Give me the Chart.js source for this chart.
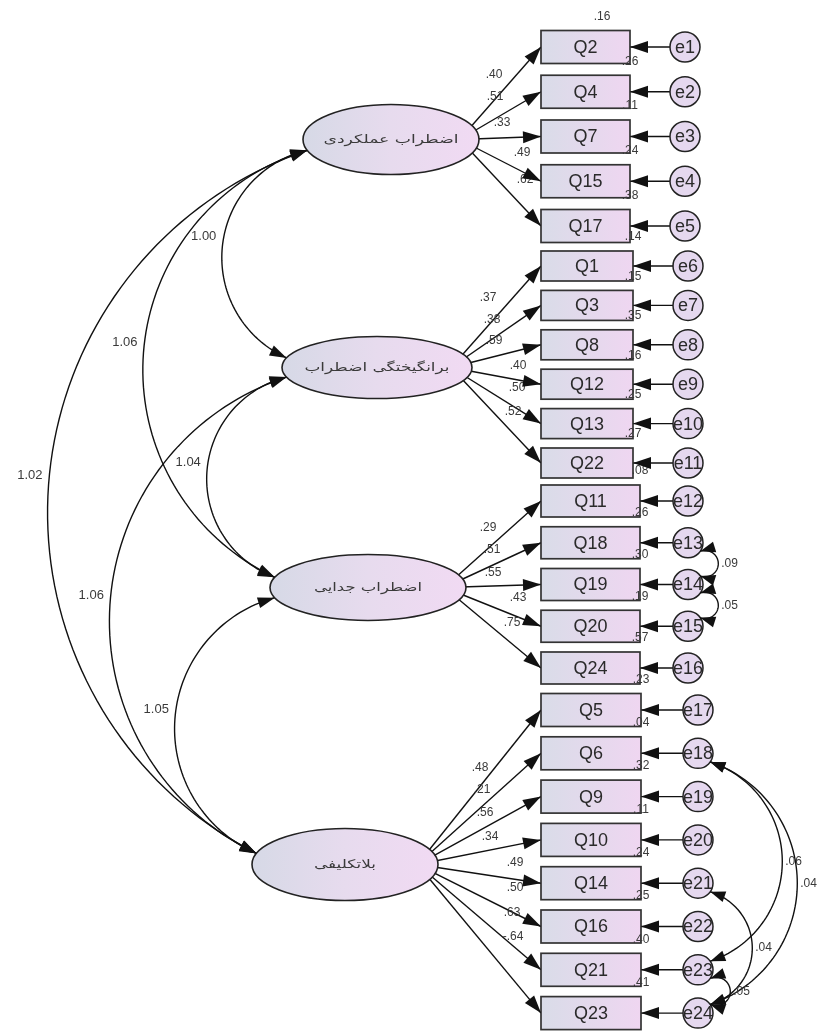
<!DOCTYPE html>
<html>
<head>
<meta charset="utf-8">
<title>CFA path diagram</title>
<script src="https://cdn.jsdelivr.net/npm/chart.js@4.4.1/dist/chart.umd.min.js"></script>
<style>
  html, body { margin: 0; padding: 0; background: #fff; }
  #wrap { width: 823px; height: 1033px; position: relative; }
</style>
</head>
<body>
<div id="wrap"><canvas id="sem"></canvas></div>
<script>
// ---- model values ----
const factorNames = ['اضطراب عملکردی', 'برانگیختگی اضطراب', 'اضطراب جدایی', 'بلاتکلیفی'];

const itemNames = [
	['Q2', 'Q4', 'Q7', 'Q15', 'Q17'],
	['Q1', 'Q3', 'Q8', 'Q12', 'Q13', 'Q22'],
	['Q11', 'Q18', 'Q19', 'Q20', 'Q24'],
	['Q5', 'Q6', 'Q9', 'Q10', 'Q14', 'Q16', 'Q21', 'Q23']
];

const loadings = [
	['.40', '.51', '.33', '.49', '.62'],
	['.37', '.38', '.59', '.40', '.50', '.52'],
	['.29', '.51', '.55', '.43', '.75'],
	['.48', '.21', '.56', '.34', '.49', '.50', '.63', '-.64']
];

const rSquared = [
	['.16', '.26', '.11', '.24', '.38'],
	['.14', '.15', '.35', '.16', '.25', '.27'],
	['.08', '.26', '.30', '.19', '.57'],
	['.23', '.04', '.32', '.11', '.24', '.25', '.40', '.41']
];

const factorCovPairs = [[0, 1], [0, 2], [0, 3], [1, 2], [1, 3], [2, 3]];
const factorCovs = ['1.00', '1.06', '1.02', '1.04', '1.06', '1.05'];

// error terms are numbered e1..e24
const errorCovPairs = [[13, 14], [14, 15], [18, 23], [18, 24], [21, 24], [23, 24]];
const errorCovs = ['.09', '.05', '.06', '.04', '.04', '.05'];

// ---- layout (axis units, the axes run 0..823 and 0..1033) ----
const groupTop = [47, 266, 501, 710];
const groupStep = [44.75, 39.4, 41.75, 43.3];
const boxX = 541;
const boxW = [89, 92, 99, 100];
const boxH = [33, 30, 32, 33];
const errX = [685, 688, 688, 698];
const errR = 15;
const factorX = [391, 377, 368, 345];
const factorRx = [88, 95, 98, 93];
const factorRy = [35, 31, 33, 36];
const factorTextW = [135, 145, 108, 62];
const factorBulge = [75, 148, 234, 74, 162, 91];
const errorBulge = [18, 18, 72, 87, 42, 20];
const r2Shift = { Q2: -28 };
const loadLabelXY = [
	[[494, 75], [495, 97], [502, 123], [522, 153], [525, 180]],
	[[488, 298], [492, 320], [494, 341], [518, 366], [517, 388], [513, 412]],
	[[488, 528], [492, 550], [493, 573], [518, 598], [512, 623]],
	[[480, 768], [482, 790], [485, 813], [490, 837], [515, 863], [515, 888], [512, 913], [513, 937]]
];

// flatten items into rows
const rows = [];
itemNames.forEach((names, g) => {
	names.forEach((name, i) => {
		rows.push({ g: g, i: i, name: name, y: groupTop[g] + i * groupStep[g] });
	});
});
const factorY = groupTop.map((t, g) => t + (itemNames[g].length - 1) * groupStep[g] / 2 + 3);
const fanX = factorX.map((x, g) => x + 0.78 * factorRx[g]);

function factorAnchor(g, up) {
	const a = 18 * Math.PI / 180;
	return { x: factorX[g] - factorRx[g] * Math.cos(a), y: factorY[g] + (up ? -1 : 1) * factorRy[g] * Math.sin(a) };
}

function errAnchor(e, up) {
	const row = rows[e - 1];
	const a = 35 * Math.PI / 180;
	return { x: errX[row.g] + errR * Math.cos(a), y: row.y + (up ? -1 : 1) * errR * Math.sin(a) };
}

// circular arc through p1, p2 with sagitta sag (positive bulges to the left of a downward chord)
function arcPoints(p1, p2, sag) {
	const dx = p2.x - p1.x, dy = p2.y - p1.y;
	const L = Math.hypot(dx, dy);
	const ux = dx / L, uy = dy / L;
	const nx = -uy, ny = ux;
	const mx = (p1.x + p2.x) / 2, my = (p1.y + p2.y) / 2;
	const bx = mx + sag * nx, by = my + sag * ny;
	const R = ((L / 2) * (L / 2) + sag * sag) / (2 * Math.abs(sag));
	const k = sag - Math.sign(sag) * R;
	const cx = mx + k * nx, cy = my + k * ny;
	const a1 = Math.atan2(p1.y - cy, p1.x - cx);
	const a2 = Math.atan2(p2.y - cy, p2.x - cx);
	const ab = Math.atan2(by - cy, bx - cx);
	let d = a2 - a1;
	while (d > Math.PI) d -= 2 * Math.PI;
	while (d < -Math.PI) d += 2 * Math.PI;
	// make sure the sweep passes through the bulge point
	const half = a1 + d / 2;
	if (Math.cos(half - ab) < 0) d = d - Math.sign(d) * 2 * Math.PI;
	const pts = [];
	const n = 80;
	for (let i = 0; i <= n; i++) {
		const a = a1 + d * i / n;
		pts.push({ x: cx + R * Math.cos(a), y: cy + R * Math.sin(a) });
	}
	return { pts: pts, mid: { x: bx, y: by } };
}

function drawHead(ctx, tip, from, len, hw) {
	const dx = tip.x - from.x, dy = tip.y - from.y;
	const l = Math.hypot(dx, dy) || 1;
	const ux = dx / l, uy = dy / l;
	const bx = tip.x - ux * len, by = tip.y - uy * len;
	ctx.beginPath();
	ctx.moveTo(tip.x, tip.y);
	ctx.lineTo(bx - uy * hw, by + ux * hw);
	ctx.lineTo(bx + uy * hw, by - ux * hw);
	ctx.closePath();
	ctx.fill();
}

const sans = '"Liberation Sans", Arial, sans-serif';

const semPlugin = {
	id: 'semDiagram',
	afterDatasetsDraw(chart) {
		const ctx = chart.ctx;
		const X = v => chart.scales.x.getPixelForValue(v);
		const Y = v => chart.scales.y.getPixelForValue(v);
		const unit = X(1) - X(0);
		const P = p => ({ x: X(p.x), y: Y(p.y) });
		const heads = [];
		const texts = [];

		ctx.save();
		ctx.strokeStyle = '#111';
		ctx.fillStyle = '#111';
		ctx.lineWidth = 1.4;

		// factor covariances
		factorCovPairs.forEach((pair, k) => {
			const arc = arcPoints(P(factorAnchor(pair[0], false)), P(factorAnchor(pair[1], true)), factorBulge[k] * unit);
			const pts = arc.pts;
			ctx.beginPath();
			pts.forEach((p, i) => i ? ctx.lineTo(p.x, p.y) : ctx.moveTo(p.x, p.y));
			ctx.stroke();
			heads.push([pts[0], pts[2], 17, 5.5]);
			heads.push([pts[pts.length - 1], pts[pts.length - 3], 17, 5.5]);
			texts.push([factorCovs[k], arc.mid.x - 6, arc.mid.y - 10, 'right', 13]);
		});

		// error covariances
		errorCovPairs.forEach((pair, k) => {
			const arc = arcPoints(P(errAnchor(pair[0], false)), P(errAnchor(pair[1], true)), -errorBulge[k] * unit);
			const pts = arc.pts;
			ctx.beginPath();
			pts.forEach((p, i) => i ? ctx.lineTo(p.x, p.y) : ctx.moveTo(p.x, p.y));
			ctx.stroke();
			heads.push([pts[0], pts[3], 15, 5.5]);
			heads.push([pts[pts.length - 1], pts[pts.length - 4], 15, 5.5]);
			texts.push([errorCovs[k], arc.mid.x + 3, arc.mid.y, 'left', 12]);
		});

		// latent variables
		factorNames.forEach((name, g) => {
			const cx = X(factorX[g]), cy = Y(factorY[g]);
			const rx = factorRx[g] * unit, ry = factorRy[g] * unit;
			const grad = ctx.createLinearGradient(cx - rx, 0, cx + rx, 0);
			grad.addColorStop(0, '#d6d9e6');
			grad.addColorStop(0.5, '#e7dbee');
			grad.addColorStop(1, '#f1daf3');
			ctx.beginPath();
			ctx.ellipse(cx, cy, rx, ry, 0, 0, 2 * Math.PI);
			ctx.fillStyle = grad;
			ctx.fill();
			ctx.lineWidth = 1.6;
			ctx.strokeStyle = '#222';
			ctx.stroke();

			ctx.save();
			ctx.font = '12px "DejaVu Sans", sans-serif';
			ctx.direction = 'rtl';
			ctx.textAlign = 'center';
			ctx.textBaseline = 'middle';
			ctx.fillStyle = '#3a3a3a';
			const w = ctx.measureText(name).width;
			const sx = Math.max(0.8, Math.min(1.7, factorTextW[g] / w));
			ctx.translate(cx, cy);
			ctx.scale(sx, 1);
			ctx.fillText(name, 0, 0);
			ctx.restore();
		});

		// observed variables
		rows.forEach(row => {
			const g = row.g;
			const left = X(boxX), right = X(boxX + boxW[g]);
			const top = Y(row.y - boxH[g] / 2), bottom = Y(row.y + boxH[g] / 2);
			const grad = ctx.createLinearGradient(left, 0, right, 0);
			grad.addColorStop(0, '#d9dce8');
			grad.addColorStop(1, '#efd6f1');
			ctx.fillStyle = grad;
			ctx.fillRect(left, top, right - left, bottom - top);
			ctx.lineWidth = 1.7;
			ctx.strokeStyle = '#333';
			ctx.strokeRect(left, top, right - left, bottom - top);

			ctx.fillStyle = '#2a2a2a';
			ctx.font = '18px ' + sans;
			ctx.textAlign = 'center';
			ctx.textBaseline = 'middle';
			ctx.fillText(row.name, (left + right) / 2, Y(row.y) + 1);

			const shift = r2Shift[row.name] || 0;
			texts.push([rSquared[g][row.i], X(boxX + boxW[g] + shift), Y(row.y - boxH[g] / 2 - 14), 'center', 12]);
			const lp = loadLabelXY[g][row.i];
			texts.push([loadings[g][row.i], X(lp[0]), Y(lp[1]), 'center', 12]);

			// arrowheads of loading and error paths
			heads.push([{ x: left, y: Y(row.y) }, { x: X(fanX[g]), y: Y(factorY[g]) }, 18, 6]);
			heads.push([{ x: right, y: Y(row.y) }, { x: X(errX[g]), y: Y(row.y) }, 18, 6]);
		});

		// error term names
		rows.forEach((row, k) => {
			ctx.fillStyle = '#2a2a2a';
			ctx.font = '18px ' + sans;
			ctx.textAlign = 'center';
			ctx.textBaseline = 'middle';
			ctx.fillText('e' + (k + 1), X(errX[row.g]), Y(row.y) + 1);
		});

		// numeric labels
		ctx.textBaseline = 'middle';
		ctx.fillStyle = '#3a3a3a';
		texts.forEach(t => {
			ctx.font = t[4] + 'px ' + sans;
			ctx.textAlign = t[3];
			ctx.fillText(t[0], t[1], t[2]);
		});

		// arrowheads on top
		ctx.fillStyle = '#111';
		heads.forEach(h => drawHead(ctx, h[0], h[1], h[2], h[3]));
		ctx.restore();
	}
};

// ---- datasets: error circles plus one line per path ----
const datasets = [];
datasets.push({
	label: 'errors',
	data: rows.map(r => ({ x: errX[r.g], y: r.y })),
	pointRadius: errR,
	pointBackgroundColor: '#e5d8ef',
	pointBorderColor: '#222',
	pointBorderWidth: 1.5,
	showLine: false,
	clip: false
});
rows.forEach(r => {
	datasets.push({
		label: 'load ' + r.name,
		data: [{ x: fanX[r.g], y: factorY[r.g] }, { x: boxX, y: r.y }],
		showLine: true,
		borderColor: '#111',
		borderWidth: 1.4,
		pointRadius: 0,
		clip: false
	});
	datasets.push({
		label: 'err ' + r.name,
		data: [{ x: errX[r.g], y: r.y }, { x: boxX + boxW[r.g], y: r.y }],
		showLine: true,
		borderColor: '#111',
		borderWidth: 1.4,
		pointRadius: 0,
		clip: false
	});
});

new Chart(document.getElementById('sem').getContext('2d'), {
	type: 'scatter',
	data: { datasets: datasets },
	options: {
		responsive: true,
		maintainAspectRatio: false,
		animation: false,
		events: [],
		layout: { padding: 0, autoPadding: false },
		plugins: {
			legend: { display: false },
			tooltip: { enabled: false }
		},
		scales: {
			x: { type: 'linear', min: 0, max: 823, display: false },
			y: { type: 'linear', min: 0, max: 1033, reverse: true, display: false }
		}
	},
	plugins: [semPlugin]
});
</script>
</body>
</html>
